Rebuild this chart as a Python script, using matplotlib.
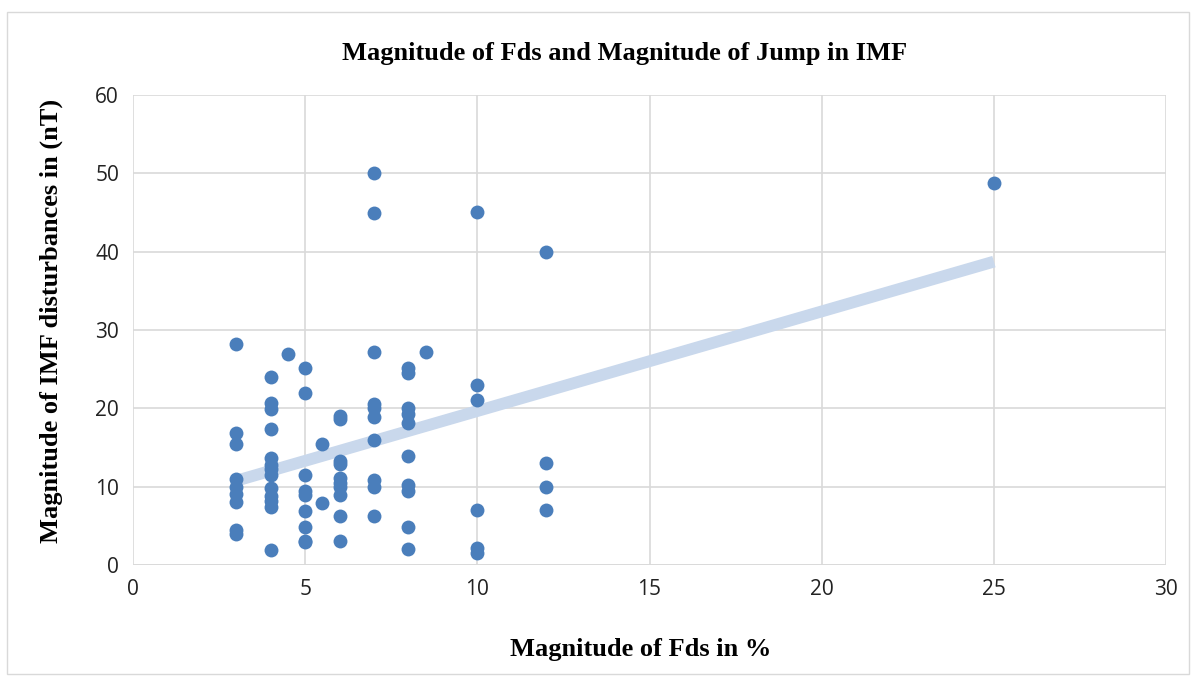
import numpy as np
import matplotlib.pyplot as plt

# Fds magnitude (%) and IMF jump (nT)
fds_3 = [3] * 9
imf_3 = [28.2, 16.9, 15.4, 11.0, 10.0, 9.1, 8.0, 4.5, 4.0]
fds_4 = [4] * 13
imf_4 = [24.0, 20.7, 19.9, 17.3, 13.6, 12.8, 12.2, 11.5, 9.8, 8.8, 8.2, 7.4, 1.9]
fds_45 = [4.5]
imf_45 = [26.9]
fds_5 = [5] * 9
imf_5 = [25.1, 21.9, 11.5, 9.4, 8.9, 6.9, 4.9, 3.1, 2.9]
fds_55 = [5.5, 5.5]
imf_55 = [15.4, 7.9]
fds_6 = [6] * 10
imf_6 = [19.0, 18.6, 13.3, 12.9, 11.1, 10.5, 9.9, 8.9, 6.2, 3.0]
fds_7 = [7] * 10
imf_7 = [50.0, 45.0, 27.2, 20.6, 20.0, 18.9, 16.0, 10.9, 10.0, 6.2]
fds_8 = [8] * 10
imf_8 = [25.2, 24.5, 20.1, 19.3, 18.1, 13.9, 10.2, 9.4, 4.9, 2.0]
fds_85 = [8.5]
imf_85 = [27.2]
fds_10 = [10] * 6
imf_10 = [45.1, 23.0, 21.0, 7.0, 2.1, 1.5]
fds_12 = [12] * 4
imf_12 = [40.0, 13.0, 10.0, 7.0]
fds_25 = [25]
imf_25 = [48.8]

fds = np.array(fds_3 + fds_4 + fds_45 + fds_5 + fds_55 + fds_6 + fds_7 + fds_8 + fds_85 + fds_10 + fds_12 + fds_25)
imf = np.array(imf_3 + imf_4 + imf_45 + imf_5 + imf_55 + imf_6 + imf_7 + imf_8 + imf_85 + imf_10 + imf_12 + imf_25)

fig = plt.figure(figsize=(11.96, 6.79), dpi=100)
fig.patch.set_facecolor('white')
# outer chart border
fig.add_artist(plt.Rectangle((0.006, 0.008), 0.988, 0.975, transform=fig.transFigure,
                             fill=False, edgecolor='#d9d9d9', linewidth=1))

ax = fig.add_axes([0.1112, 0.168, 0.8638, 0.692])

# linear trendline
slope, intercept = np.polyfit(fds, imf, 1)
xt = np.array([fds.min(), fds.max()])
ax.plot(xt, slope * xt + intercept, color='#c9d8ec', linewidth=8.5, solid_capstyle='butt', zorder=2)

ax.scatter(fds, imf, s=100, color='#4a7ebb', zorder=3, linewidths=0)

ax.set_xlim(0, 30)
ax.set_ylim(0, 60)
ax.set_xticks(range(0, 31, 5))
ax.set_yticks(range(0, 61, 10))
ax.grid(True, color='#d9d9d9', linewidth=1.2)
ax.set_axisbelow(True)
for s in ax.spines.values():
    s.set_visible(False)
ax.axhline(0, color='#d9d9d9', linewidth=1.2, zorder=1)
ax.tick_params(length=0, labelsize=15, pad=10)
for lab in ax.get_xticklabels() + ax.get_yticklabels():
    lab.set_fontfamily('Open Sans')
    lab.set_color('#222222')

ax.set_title('Magnitude of Fds and Magnitude of Jump in IMF', fontfamily='Liberation Serif',
             fontweight='bold', fontsize=19, pad=25, x=0.476)
ax.set_xlabel('Magnitude of Fds in %', fontfamily='Liberation Serif', fontweight='bold',
              fontsize=19, labelpad=30)
ax.xaxis.set_label_coords(0.491, -0.155)
ax.set_ylabel('Magnitude of IMF disturbances in (nT)', fontfamily='Liberation Serif',
              fontweight='bold', fontsize=19, labelpad=22)
ax.yaxis.set_label_coords(-0.068, 0.52)

plt.savefig('out.png', dpi=100)
